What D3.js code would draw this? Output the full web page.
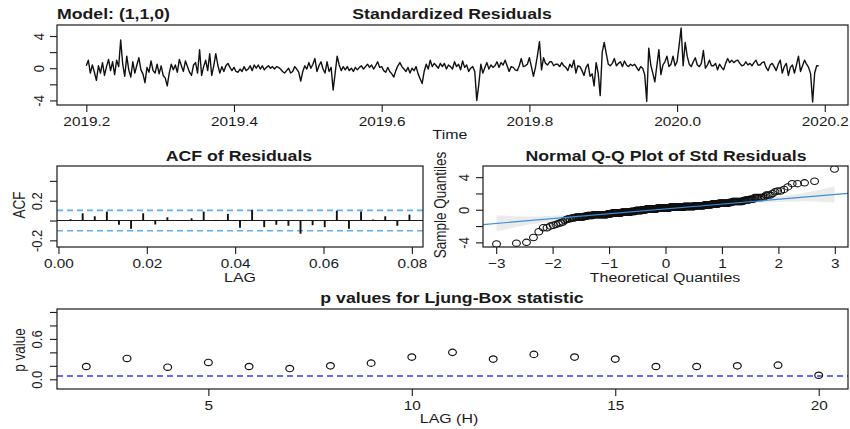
<!DOCTYPE html>
<html>
<head>
<meta charset="utf-8">
<script src="https://cdn.jsdelivr.net/npm/d3@7"></script>
<style>
  body { margin: 0; background: #fff; }
  svg { display: block; font-family: "Liberation Sans", Arial, Helvetica, sans-serif; }
</style>
</head>
<body>
<svg id="chart" width="850" height="429"></svg>
<script>
// ---- model diagnostics data ----
const modelLabel = "Model: (1,1,0)";
const startTime = 2019.2;
const frequency = 365;

// standardized residuals, one per day
const stdResiduals = [
  0.3, 1.0, -0.6, 0.4, -0.5, -1.5, 0.3, -0.6, 0.7, -0.9,
  0.2, 1.1, -0.3, 0.8, -0.8, 1.0, 0.2, 3.5, 0.5, -1.0,
  1.5, -0.2, -1.1, 0.8, -0.6, 0.4, 1.3, -0.2, -0.7, -1.8,
  0.1, -0.5, 0.9, -0.3, -0.6, 0.5, -0.7, 0.3, -0.9, -1.2,
  -2.2, -0.6, 0.5, -0.2, 0.4, -0.5, 1.1, 0.3, -0.4, 0.9,
  0.2, -0.5, -0.9, 0.4, 0.7, -0.6, 2.3, -0.9, 0.2, 1.0,
  -0.3, 1.8, -0.9, 0.3, 1.8, 0.4, -0.6, 0.2, -0.4, 0.3,
  0.6, 0.1, -0.3, 0.1, -0.4, -0.5, -0.1, -0.4, 0.2, -0.3,
  -0.1, 0.3, -0.3, 0.4, 0.0, 0.4, -0.1, 0.3, -0.2, 0.1,
  0.3, 0.0, 0.2, -0.1, 0.2, 0.1, -0.1, -0.4, -0.6, -0.3,
  0.0, -0.6, -0.4, 0.2, -0.1, -0.5, -1.6, -0.4, 0.3, -0.1,
  0.7, 0.0, 0.5, 1.2, -0.4, 0.3, 0.8, -0.1, -0.6, 0.8,
  -0.4, 0.1, -2.7, -0.6, 1.5, 0.4, -0.3, 0.2, -0.2, 0.2,
  -0.3, 0.0, -0.4, 0.1, -0.2, 0.1, 0.3, -0.1, 0.2, 0.5,
  0.1, 0.4, -0.1, 0.3, 0.8, 0.1, 0.2, -0.3, -0.5, 0.1,
  -0.4, -0.7, -1.1, -0.3, 0.3, 0.7, 0.2, -0.1, -0.4, 0.1,
  -0.6, 0.0, -0.3, 0.2, -0.7, -1.3, -1.9, -0.4, 0.5, -0.1,
  1.0, 0.2, 0.6, 0.3, 0.0, 0.6, 0.2, 0.6, -0.1, 0.4,
  0.2, -0.1, 0.8, 0.2, 0.5, -0.2, 0.9, 0.1, 0.4, -0.4,
  0.0, 0.2, -0.4, -4.0, -2.0, 0.5, -0.6, 0.1, 0.7, -0.1,
  0.4, 0.1, 0.3, 0.8, 0.1, 0.7, 0.4, 1.0, 0.3, -0.4,
  0.2, 0.1, -0.2, -0.3, 0.3, 1.2, 0.2, 0.3, 0.5, 1.3,
  0.2, -1.0, 0.1, 1.6, 3.3, -0.2, 1.3, 0.6, 0.4, 0.8,
  0.8, 0.3, 0.5, 0.5, 0.2, 0.7, 0.3, 0.1, -0.3, 0.5,
  0.1, 1.0, -0.6, 0.3, 0.2, -0.3, -0.9, 0.1, 0.5, -1.0,
  -0.7, -2.2, 0.7, -0.6, -3.4, 2.0, 3.2, 1.8, 0.5, 0.3,
  0.6, 1.2, 0.3, 0.6, 0.8, 0.2, 0.9, 0.4, 0.2, 0.5,
  0.3, 0.5, 0.1, -0.3, 0.2, 0.0, -0.8, -4.1, 2.5, 0.4,
  -0.6, -1.7, 0.3, 2.3, -0.8, 0.4, 0.8, 1.5, 0.2, 0.5,
  1.5, 0.3, 0.8, 2.8, 5.0, 0.3, 3.2, 1.5, 0.5, 0.2,
  0.8, 1.3, 0.4, 0.2, 0.6, 2.2, 0.0, 0.4, 1.0, 0.3,
  0.3, 0.6, -0.2, 0.5, 0.1, -0.2, 0.6, 1.2, 0.7, 1.0,
  0.7, 0.9, 1.0, 0.6, 0.3, 0.4, 0.8, 0.4, 0.6, 0.3,
  0.7, 1.0, 0.4, 0.4, 0.7, 0.8, 0.1, -0.3, 0.4, 0.6,
  0.2, -0.3, 0.5, 1.0, -0.6, 0.2, 0.6, -0.9, 0.1, 0.4,
  -0.6, 0.4, 1.5, -0.4, 0.3, 1.0, 0.5, 0.1, -0.7, -4.2,
  -0.6, 0.3, 0.3
];
const timeTicks = [2019.2, 2019.4, 2019.6, 2019.8, 2020.0, 2020.2];
const residTicks = [-4, -2, 0, 2, 4];
const residTickLabels = ["-4", "", "0", "", "4"];

// sample autocorrelation of the residuals, lags 1..29 (days)
const acfLags = d3.range(1, 30);
const acfValues = [
  0.013, 0.073, 0.043, 0.090, -0.043, -0.083, 0.073, -0.040, 0.033, 0.004,
  0.023, 0.090, 0.006, 0.067, -0.073, 0.107, -0.067, -0.043, -0.053, -0.133,
  -0.047, -0.067, 0.100, -0.083, 0.090, 0.010, 0.043, -0.053, 0.060
];
const acfXTicks = [0, 0.02, 0.04, 0.06, 0.08];
const acfYTicks = [-0.2, 0, 0.2, 0.4];
const acfYTickLabels = ["-0.2", "", "0.2", ""];

const qqXTicks = [-3, -2, -1, 0, 1, 2, 3];
const qqYTicks = [-4, -2, 0, 2, 4];
const qqYTickLabels = ["-4", "", "0", "", "4"];

// Ljung-Box p-values by lag H
const ljungLags = d3.range(2, 21);
const ljungP = [0.19, 0.31, 0.18, 0.25, 0.19, 0.16, 0.20, 0.24, 0.33, 0.40,
                0.30, 0.37, 0.33, 0.30, 0.19, 0.19, 0.20, 0.21, 0.06];
const pXTicks = [5, 10, 15, 20];
const pYTicks = [0, 0.2, 0.4, 0.6, 0.8, 1.0];
const pYTickLabels = ["0.0", "", "", "0.6", "", ""];
const pSignificance = 0.05;

// ---- helpers ----
const SX = 1.18;          // horizontal glyph stretch
const TICK_FONT = 13;
const LAB_FONT = 13.5;
const TITLE_FONT = 15;
const INK = "#1a1a1a";

const svg = d3.select("#chart");

function text(g, x, y, s, opt = {}) {
  return g.append("text")
    .attr("transform", `translate(${x},${y}) scale(${SX},1)` + (opt.rotate ? " rotate(-90)" : ""))
    .attr("text-anchor", opt.anchor || "middle")
    .style("font-size", (opt.size || LAB_FONT) + "px")
    .style("font-weight", opt.weight || "normal")
    .attr("fill", INK)
    .text(s);
}

function padded(extent) {
  const d = (extent[1] - extent[0]) * 0.04;
  return [extent[0] - d, extent[1] + d];
}

function bottomAxis(scale, y, ticks, fmt, labelOffset) {
  const g = svg.append("g").attr("transform", `translate(0,${y})`)
    .call(d3.axisBottom(scale).tickValues(ticks).tickFormat(fmt).tickSize(7));
  g.attr("font-size", null).attr("font-family", null);
  g.select(".domain").remove();
  g.selectAll(".tick line").attr("stroke", INK).attr("stroke-width", 1.1);
  g.selectAll(".tick text")
    .attr("y", null).attr("dy", null).attr("fill", INK)
    .attr("transform", `translate(0,${labelOffset}) scale(${SX},1)`)
    .style("font-size", TICK_FONT + "px");
}

function leftAxis(scale, x, ticks, labels, labelOffset) {
  const g = svg.append("g").attr("transform", `translate(${x},0)`)
    .call(d3.axisLeft(scale).tickValues(ticks).tickFormat((d, i) => labels[i]).tickSize(7));
  g.attr("font-size", null).attr("font-family", null);
  g.select(".domain").remove();
  g.selectAll(".tick line").attr("stroke", INK).attr("stroke-width", 1.1);
  g.selectAll(".tick text")
    .attr("x", null).attr("dy", null).attr("fill", INK)
    .attr("text-anchor", "middle")
    .attr("transform", `translate(${-labelOffset},0) scale(${SX},1) rotate(-90)`)
    .style("font-size", TICK_FONT + "px");
}

function frame(x0, x1, y0, y1) {
  svg.append("rect").attr("x", x0).attr("y", y0)
    .attr("width", x1 - x0).attr("height", y1 - y0)
    .attr("fill", "none").attr("stroke", INK).attr("stroke-width", 1.2);
}

// ---- panel 1: standardized residuals over time ----
{
  const L = 57, R = 848, T = 25, B = 105;
  const times = stdResiduals.map((_, i) => startTime + i / frequency);
  const x = d3.scaleLinear().domain(padded(d3.extent(times))).range([L, R]);
  const y = d3.scaleLinear().domain(padded(d3.extent(stdResiduals))).range([B, T]);

  svg.append("path")
    .datum(stdResiduals)
    .attr("fill", "none").attr("stroke", "#111").attr("stroke-width", 1.4)
    .attr("stroke-linejoin", "round")
    .attr("d", d3.line().x((d, i) => x(times[i])).y(d => y(d)));

  frame(L, R, T, B);
  bottomAxis(x, B, timeTicks, d3.format(".1f"), 20.5);
  leftAxis(y, L, residTicks, residTickLabels, 13.5);

  text(svg, L, 19, modelLabel, { anchor: "start", size: TITLE_FONT, weight: "bold" });
  text(svg, 452, 19, "Standardized Residuals", { size: TITLE_FONT, weight: "bold" });
  text(svg, 450, 139, "Time");
}

// ---- panel 2: ACF of residuals ----
{
  const L = 57, R = 423, T = 166, B = 247;
  const lagYears = acfLags.map(k => k / frequency);
  const x = d3.scaleLinear().domain(padded(d3.extent(lagYears))).range([L, R]);
  const y = d3.scaleLinear().domain([-0.267, 0.55]).range([B, T]);
  const bound = 1.96 / Math.sqrt(stdResiduals.length);

  svg.append("line").attr("x1", L).attr("x2", R).attr("y1", y(0)).attr("y2", y(0))
    .attr("stroke", INK).attr("stroke-width", 1.1);
  [bound, -bound].forEach(v => {
    svg.append("line").attr("x1", L).attr("x2", R).attr("y1", y(v)).attr("y2", y(v))
      .attr("stroke", "#5eaef0").attr("stroke-width", 1.7).attr("stroke-dasharray", "6,4");
  });
  svg.append("g").selectAll("line").data(acfValues).join("line")
    .attr("x1", (d, i) => x(lagYears[i])).attr("x2", (d, i) => x(lagYears[i]))
    .attr("y1", y(0)).attr("y2", d => y(d))
    .attr("stroke", "#111").attr("stroke-width", 1.9);

  frame(L, R, T, B);
  bottomAxis(x, B, acfXTicks, d3.format(".2f"), 21);
  leftAxis(y, L, acfYTicks, acfYTickLabels, 15);

  text(svg, 239, 161, "ACF of Residuals", { size: TITLE_FONT, weight: "bold" });
  text(svg, 240, 281.5, "LAG");
  text(svg, 25, 205, "ACF", { rotate: true });
}

// ---- panel 3: normal Q-Q plot ----
{
  const L = 483, R = 848, T = 166, B = 247;
  const n = stdResiduals.length;
  const sorted = stdResiduals.slice().sort(d3.ascending);

  // inverse standard normal CDF (Acklam)
  function qnorm(p) {
    const a = [-3.969683028665376e+01, 2.209460984245205e+02, -2.759285104469687e+02,
               1.383577518672690e+02, -3.066479806614716e+01, 2.506628277459239e+00];
    const b = [-5.447609879822406e+01, 1.615858368580409e+02, -1.556989798598866e+02,
               6.680131188771972e+01, -1.328068155288572e+01];
    const c = [-7.784894002430293e-03, -3.223964580411365e-01, -2.400758277161838e+00,
               -2.549732539343734e+00, 4.374664141464968e+00, 2.938163982698783e+00];
    const d = [7.784695709041462e-03, 3.224671290700398e-01, 2.445134137142996e+00,
               3.754408661907416e+00];
    const pl = 0.02425;
    if (p < pl) {
      const q = Math.sqrt(-2 * Math.log(p));
      return (((((c[0]*q+c[1])*q+c[2])*q+c[3])*q+c[4])*q+c[5]) / ((((d[0]*q+d[1])*q+d[2])*q+d[3])*q+1);
    }
    if (p <= 1 - pl) {
      const q = p - 0.5, r = q * q;
      return (((((a[0]*r+a[1])*r+a[2])*r+a[3])*r+a[4])*r+a[5])*q / (((((b[0]*r+b[1])*r+b[2])*r+b[3])*r+b[4])*r+1);
    }
    const q = Math.sqrt(-2 * Math.log(1 - p));
    return -(((((c[0]*q+c[1])*q+c[2])*q+c[3])*q+c[4])*q+c[5]) / ((((d[0]*q+d[1])*q+d[2])*q+d[3])*q+1);
  }
  const dnorm = z => Math.exp(-z * z / 2) / Math.sqrt(2 * Math.PI);

  const pp = d3.range(n).map(i => (i + 0.5) / n);
  const z = pp.map(qnorm);

  // reference line through the quartiles, with a pointwise band
  const q1 = d3.quantileSorted(sorted, 0.25), q3 = d3.quantileSorted(sorted, 0.75);
  const slope = (q3 - q1) / (qnorm(0.75) - qnorm(0.25));
  const icpt = q1 - slope * qnorm(0.25);
  const band = z.map((zz, i) => {
    const se = (slope / dnorm(zz)) * Math.sqrt(pp[i] * (1 - pp[i]) / n);
    const fit = icpt + slope * zz;
    return { z: zz, lo: fit - 3.9 * se, hi: fit + 3.9 * se };
  });

  const x = d3.scaleLinear().domain(padded(d3.extent(z))).range([L, R]);
  const y = d3.scaleLinear().domain(padded(d3.extent(sorted))).range([B, T]);

  svg.append("clipPath").attr("id", "qqclip")
    .append("rect").attr("x", L).attr("y", T).attr("width", R - L).attr("height", B - T);
  const g = svg.append("g").attr("clip-path", "url(#qqclip)");

  g.append("path").datum(band)
    .attr("fill", "#ebebeb").attr("stroke", "none")
    .attr("d", d3.area().x(d => x(d.z)).y0(d => y(d.lo)).y1(d => y(d.hi)));

  g.selectAll("ellipse").data(sorted).join("ellipse")
    .attr("cx", (d, i) => x(z[i])).attr("cy", d => y(d))
    .attr("rx", 3.9).attr("ry", 3.2)
    .attr("fill", "none").attr("stroke", "#111").attr("stroke-width", 1.1);

  const xd = x.domain();
  g.append("line")
    .attr("x1", x(xd[0])).attr("y1", y(icpt + slope * xd[0]))
    .attr("x2", x(xd[1])).attr("y2", y(icpt + slope * xd[1]))
    .attr("stroke", "#3b8ede").attr("stroke-width", 1.2);

  frame(L, R, T, B);
  bottomAxis(x, B, qqXTicks, d3.format("d"), 21);
  leftAxis(y, L, qqYTicks, qqYTickLabels, 14.5);

  text(svg, 666, 161, "Normal Q-Q Plot of Std Residuals", { size: TITLE_FONT, weight: "bold" });
  text(svg, 665, 281.5, "Theoretical Quantiles");
  text(svg, 446, 205, "Sample Quantiles", { rotate: true });
}

// ---- panel 4: Ljung-Box p-values ----
{
  const L = 57, R = 848, T = 309, B = 389;
  const x = d3.scaleLinear().domain(padded(d3.extent(ljungLags))).range([L, R]);
  const y = d3.scaleLinear().domain(padded([-0.1, 1])).range([B, T]);

  svg.append("line").attr("x1", L).attr("x2", R)
    .attr("y1", y(pSignificance)).attr("y2", y(pSignificance))
    .attr("stroke", "#3a3af0").attr("stroke-width", 1.5).attr("stroke-dasharray", "6,4");

  svg.append("g").selectAll("ellipse").data(ljungP).join("ellipse")
    .attr("cx", (d, i) => x(ljungLags[i])).attr("cy", d => y(d))
    .attr("rx", 3.9).attr("ry", 3.2)
    .attr("fill", "none").attr("stroke", "#111").attr("stroke-width", 1.2);

  frame(L, R, T, B);
  bottomAxis(x, B, pXTicks, d3.format("d"), 21);
  leftAxis(y, L, pYTicks, pYTickLabels, 15);

  text(svg, 452, 303, "p values for Ljung-Box statistic", { size: TITLE_FONT, weight: "bold" });
  text(svg, 449, 423, "LAG (H)");
  text(svg, 25, 350, "p value", { rotate: true });
}
</script>
</body>
</html>
